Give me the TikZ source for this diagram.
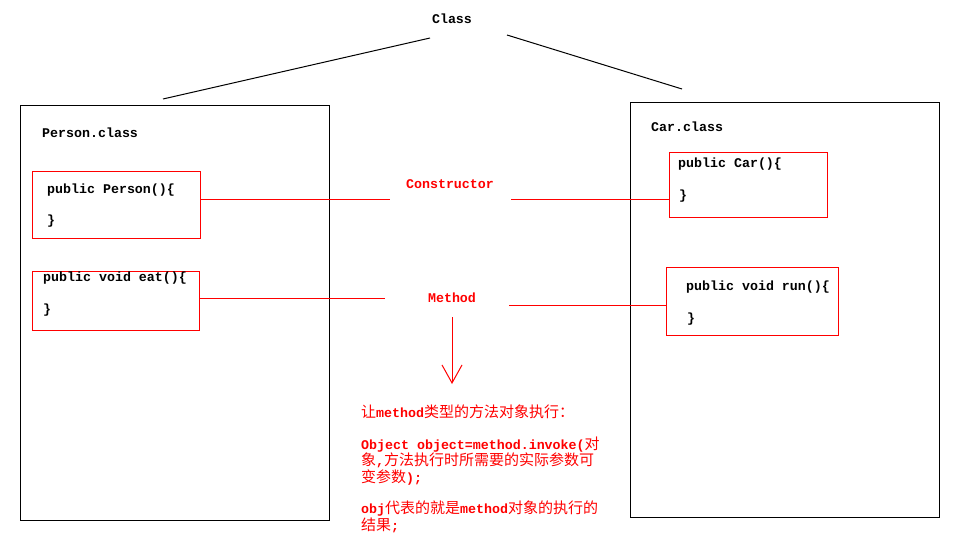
\documentclass[tikz,border=0pt]{standalone}
\usepackage{fontspec}
\setmainfont{Liberation Mono}
\newfontfamily\cjk{Noto Sans CJK SC}
\newcommand\zh[1]{{\cjk\mdseries\fontsize{15}{16.5}\selectfont #1}}
\usetikzlibrary{arrows.meta,positioning}

\begin{document}
\begin{tikzpicture}[x=1pt, y=-1pt,
    clsbox/.style={draw, line width=1pt, anchor=north west, inner sep=0pt},
    mbox/.style={draw=red, line width=1pt, anchor=north west, inner sep=0pt},
    code/.style={anchor=base west, inner sep=0pt, font=\fontsize{13.3}{16}\selectfont\bfseries},
    lbl/.style={text=red, inner sep=0pt, font=\fontsize{13.3}{16}\selectfont\bfseries},
    link/.style={red, line width=1pt}]
  \useasboundingbox (0,0) rectangle (958,540);

  % top
  \node[lbl, text=black] (cls) at (452,19) {Class};
  \coordinate (clsL) at (430,38);
  \coordinate (clsR) at (507,35);

  % Person.class
  \node[clsbox, minimum width=309pt, minimum height=415pt] (person) at (20,105) {};
  \coordinate (personTop) at (163,99);
  \node[code] (personName) at (42,137.5) {Person.class};
  \node[mbox, minimum width=168pt, minimum height=67pt] (ctorL) at (32,171) {};
  \node[code] (ctorLa) at (47,193.5) {public Person()\{};
  \node[code] (ctorLb) at (47,225) {\}};
  \node[mbox, minimum width=167pt, minimum height=59pt] (methL) at (32,271) {};
  \node[code] (methLa) at (43,281.5) {public void eat()\{};
  \node[code] (methLb) at (43,313) {\}};

  % Car.class
  \node[clsbox, minimum width=309pt, minimum height=415pt] (car) at (630,102) {};
  \coordinate (carTop) at (682,89);
  \node[code] (carName) at (651,131.5) {Car.class};
  \node[mbox, minimum width=158pt, minimum height=65pt] (ctorR) at (669,152) {};
  \node[code] (ctorRa) at (678,167.5) {public Car()\{};
  \node[code] (ctorRb) at (679,200) {\}};
  \node[mbox, minimum width=172pt, minimum height=68pt] (methR) at (666,267) {};
  \node[code] (methRa) at (686,290.5) {public void run()\{};
  \node[code] (methRb) at (687,322) {\}};

  % middle labels
  \node[lbl] (ctor) at (450,184) {Constructor};
  \node[lbl] (meth) at (452,298) {Method};
  \coordinate (ctorInL) at (390,200);
  \coordinate (ctorInR) at (511,200);
  \coordinate (methInL) at (385,298);
  \coordinate (methInR) at (509,305);
  \coordinate (tip) at (452,384);

  \draw[line width=1pt] (personTop) -- (clsL);
  \draw[line width=1pt] (clsR) -- (carTop);
  \draw[link] (ctorL.east |- ctorInL) -- (ctorInL);
  \draw[link] (ctorInR) -- (ctorR.west |- ctorInR);
  \draw[link] (methL.east |- methInL) -- (methInL);
  \draw[link] (methInR) -- (methR.west |- methInR);
  \draw[link, -{Straight Barb[length=18pt, width=20pt]}, shorten <=14pt] (meth.south) -- (tip);

  % note
  \node[anchor=north west, inner sep=0pt, align=left, text=red,
        font=\fontsize{13.3}{16.5}\selectfont\bfseries] (note) at (361,405)
    {\zh{让}method\zh{类型的方法对象执行：}\\[15pt]
     Object object=method.invoke(\zh{对}\\
     \zh{象},\zh{方法执行时所需要的实际参数可}\\
     \zh{变参数});\\[15pt]
     obj\zh{代表的就是}method\zh{对象的执行的}\\
     \zh{结果};};
\end{tikzpicture}
\end{document}
